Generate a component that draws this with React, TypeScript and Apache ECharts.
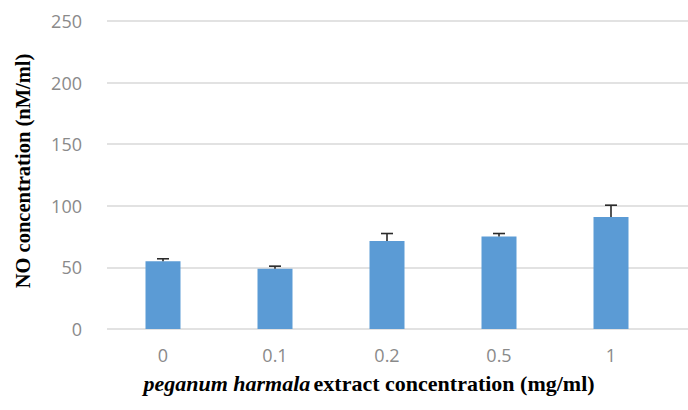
import React, { useEffect, useRef } from "react";
import * as echarts from "echarts";

const categories = ["0", "0.1", "0.2", "0.5", "1"];
const values = [55, 49, 71.5, 75, 91];
const errors = [2, 2, 6, 2.5, 9.5];
const yTicks = { min: 0, max: 250, interval: 50 };

export default function App() {
  const ref = useRef<HTMLDivElement>(null);
  useEffect(() => {
    if (!ref.current) return;
    const chart = echarts.init(ref.current, null, { renderer: "svg" });
    const errData = values.map((v, i) => [i, v, v + errors[i]]);
    chart.setOption({
      animation: false,
      backgroundColor: "#ffffff",
      grid: [
        { left: 107, right: 0, top: 21, bottom: 81 },
        { left: 107, width: 560, top: 21, bottom: 81 },
      ],
      xAxis: [
        { type: "value", gridIndex: 0, min: 0, max: 1, show: false },
        {
          type: "category",
          gridIndex: 1,
          data: categories,
          axisLine: { show: false },
          axisTick: { show: false },
          axisLabel: {
            color: "#8a8a8a",
            fontFamily: "Open Sans",
            fontSize: 18,
            margin: 17,
          },
        },
      ],
      yAxis: [
        {
          type: "value",
          gridIndex: 0,
          min: yTicks.min,
          max: yTicks.max,
          interval: yTicks.interval,
          axisLine: { show: false },
          axisTick: { show: false },
          splitLine: { lineStyle: { color: "#d9d9d9", width: 1.5 } },
          axisLabel: {
            color: "#8a8a8a",
            fontFamily: "Open Sans",
            fontSize: 18,
            margin: 25,
          },
        },
        {
          type: "value",
          gridIndex: 1,
          min: yTicks.min,
          max: yTicks.max,
          interval: yTicks.interval,
          show: false,
          splitLine: { show: false },
        },
      ],
      series: [
        {
          type: "bar",
          xAxisIndex: 1,
          yAxisIndex: 1,
          data: values,
          barWidth: 35,
          itemStyle: { color: "#5b9bd5" },
        },
        {
          type: "custom",
          xAxisIndex: 1,
          yAxisIndex: 1,
          data: errData,
          z: 10,
          renderItem: (params: any, api: any) => {
            const x = api.value(0);
            const lo = api.coord([x, api.value(1)]);
            const hi = api.coord([x, api.value(2)]);
            const half = 6;
            const style = { stroke: "#2a2a2a", lineWidth: 1.6 };
            return {
              type: "group",
              children: [
                { type: "line", shape: { x1: lo[0], y1: lo[1], x2: hi[0], y2: hi[1] }, style },
                { type: "line", shape: { x1: hi[0] - half, y1: hi[1], x2: hi[0] + half, y2: hi[1] }, style },
              ],
            };
          },
        },
      ],
      graphic: [
        {
          type: "text",
          rotation: Math.PI / 2,
          x: 23,
          y: 171,
          style: {
            text: "NO concentration (nM/ml)",
            fontFamily: "Liberation Serif",
            fontWeight: "bold",
            fontSize: 20.5,
            fill: "#000000",
            align: "center",
            verticalAlign: "middle",
          },
        },
        {
          type: "text",
          x: 369,
          y: 383,
          style: {
            text: "{i|peganum harmala} {b|extract concentration (mg/ml)}",
            align: "center",
            verticalAlign: "middle",
            rich: {
              i: { fontFamily: "Liberation Serif", fontWeight: "bold", fontStyle: "italic", fontSize: 22, fill: "#000" },
              b: { fontFamily: "Liberation Serif", fontWeight: "bold", fontSize: 22, fill: "#000" },
            },
          },
        },
      ],
    });
    return () => chart.dispose();
  }, []);
  return (
    <div
      ref={ref}
      style={{ position: "fixed", left: 0, top: 0, width: 688, height: 410, background: "#fff" }}
    />
  );
}
